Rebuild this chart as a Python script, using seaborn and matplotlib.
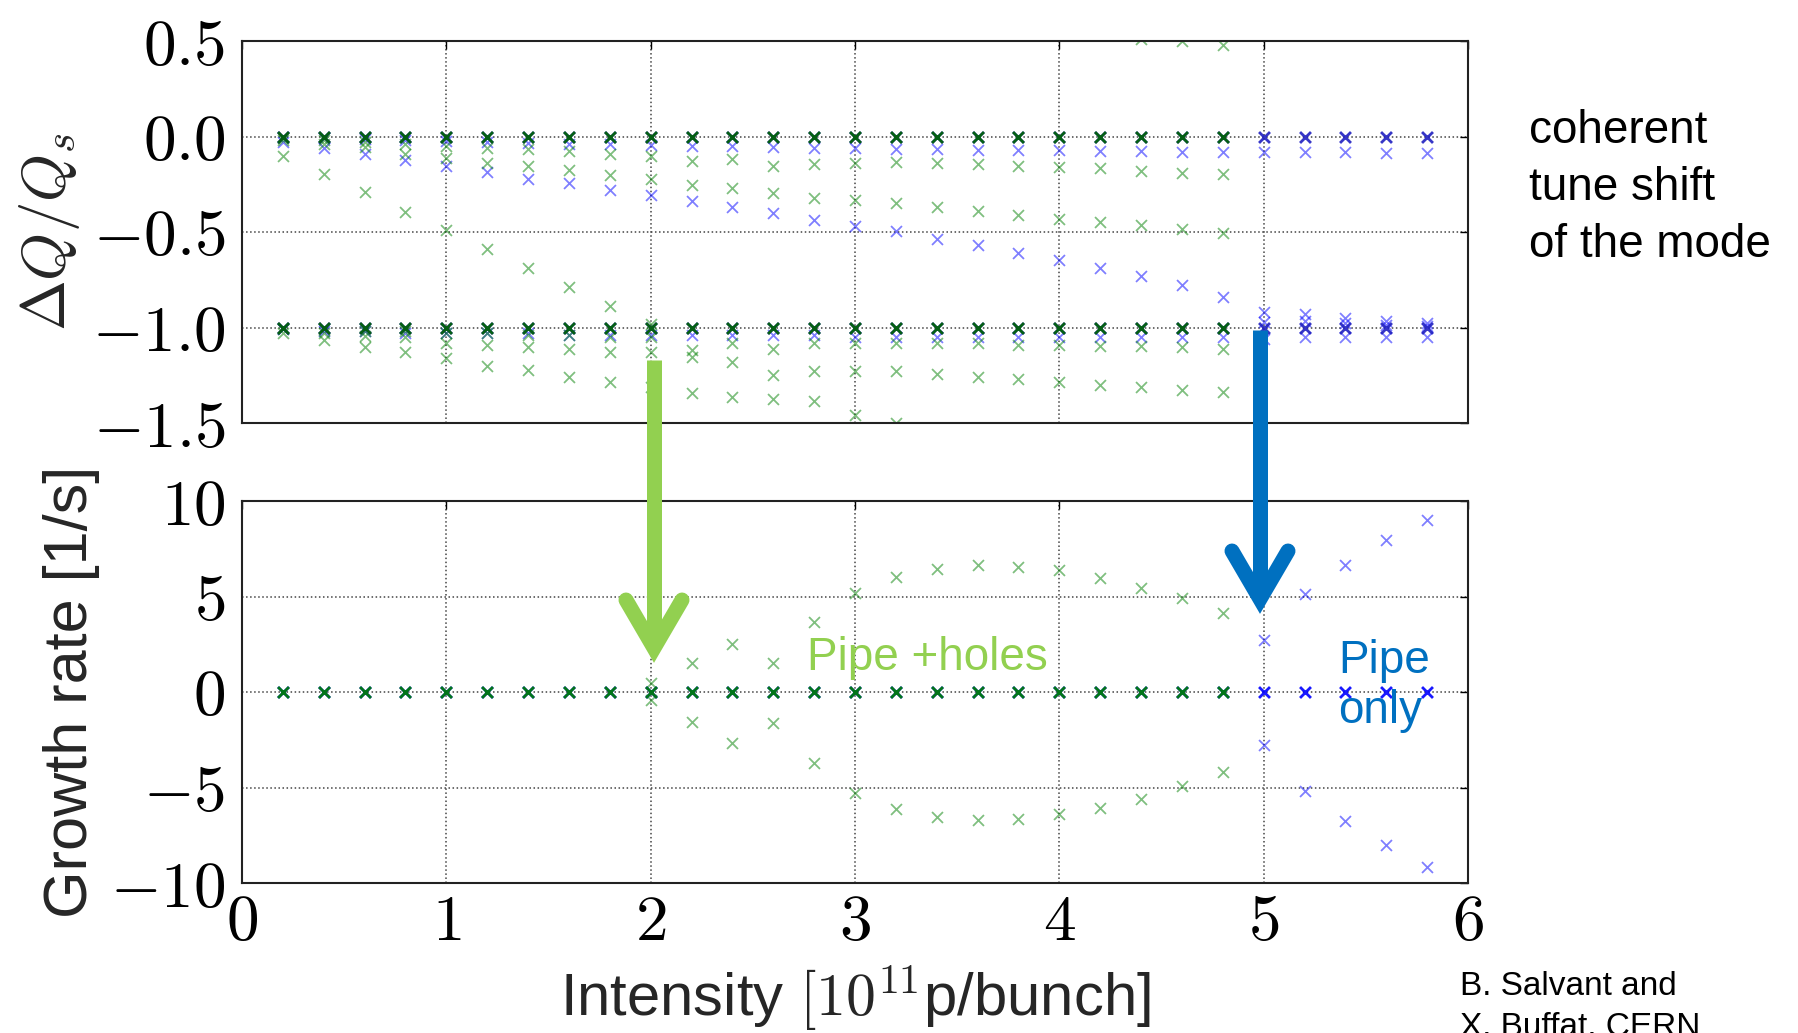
import numpy as np
import pandas as pd
import matplotlib
matplotlib.use("Agg")
import matplotlib.pyplot as plt
from matplotlib.lines import Line2D
from matplotlib import font_manager
import seaborn as sns

nan = np.nan

# bunch intensity [1e11 p/bunch]
intensity_holes = [0.2, 0.4, 0.6, 0.8, 1.0, 1.2, 1.4, 1.6, 1.8, 2.0, 2.2, 2.4,
                   2.6, 2.8, 3.0, 3.2, 3.4, 3.6, 3.8, 4.0, 4.2, 4.4, 4.6, 4.8]
intensity_pipe = [0.2, 0.4, 0.6, 0.8, 1.0, 1.2, 1.4, 1.6, 1.8, 2.0, 2.2, 2.4,
                  2.6, 2.8, 3.0, 3.2, 3.4, 3.6, 3.8, 4.0, 4.2, 4.4, 4.6, 4.8,
                  5.0, 5.2, 5.4, 5.6, 5.8]

# tune shift dQ/Qs, pipe + holes (green)
holes_dq_0 = [0, 0, 0, 0, 0, 0, 0, 0, 0, 0, 0, 0, 0, 0, 0, 0, 0, 0, 0, 0, 0, 0, 0, 0]
holes_dq_m1 = [-1, -1, -1, -1, -1, -1, -1, -1, -1, -1, -1, -1, -1, -1, -1, -1, -1, -1, -1, -1, -1, -1, -1, -1]
holes_dq_a = [-0.10, -0.195, -0.29, -0.395, -0.49, -0.59, -0.686, -0.786, -0.887, -0.98,
              nan, nan, nan, nan, nan, nan, nan, nan, nan, nan, nan, nan, nan, nan]
holes_dq_b = [-0.02, -0.04, -0.055, -0.09, -0.11, -0.14, -0.155, -0.176, -0.204, -0.225, -0.256, -0.268,
              -0.298, -0.32, -0.333, -0.347, -0.37, -0.39, -0.41, -0.43, -0.45, -0.465, -0.486, -0.507]
holes_dq_c = [-0.01, -0.02, -0.03, -0.04, -0.05, -0.06, -0.065, -0.075, -0.09, -0.10, -0.13, -0.117,
              -0.155, -0.145, -0.138, -0.132, -0.141, -0.146, -0.152, -0.16, -0.167, -0.18, -0.19, -0.195]
holes_dq_p = [nan, nan, nan, nan, nan, nan, nan, nan, nan, nan, nan, nan,
              nan, nan, nan, nan, nan, nan, nan, nan, nan, 0.51, 0.50, 0.48]
holes_dq_d = [-1.03, -1.066, -1.10, -1.13, -1.16, -1.20, -1.22, -1.258, -1.284, -1.31, -1.345, -1.366,
              -1.375, -1.387, -1.46, -1.50, nan, nan, nan, nan, nan, nan, nan, nan]
holes_dq_e = [-1.01, -1.03, -1.045, -1.05, -1.08, -1.09, -1.10, -1.11, -1.127, -1.13, -1.157, -1.18,
              -1.25, -1.23, -1.226, -1.226, -1.244, -1.258, -1.27, -1.284, -1.30, -1.314, -1.327, -1.34]
holes_dq_f = [-1.0, -1.01, -1.02, -1.02, -1.03, -1.03, -1.04, -1.04, -1.05, -1.05, -1.12, -1.08,
              -1.11, -1.08, -1.08, -1.08, -1.08, -1.08, -1.09, -1.09, -1.095, -1.095, -1.10, -1.11]

# tune shift dQ/Qs, pipe only (blue)
pipe_dq_0 = [0, 0, 0, 0, 0, 0, 0, 0, 0, 0, 0, 0, 0, 0, 0, 0, 0, 0, 0, 0, 0, 0, 0, 0, 0, 0, 0, 0, 0]
pipe_dq_m1 = [-1, -1, -1, -1, -1, -1, -1, -1, -1, -1, -1, -1, -1, -1, -1, -1, -1, -1, -1, -1, -1, -1, -1, -1, -1, -1, -1, -1, -1]
pipe_dq_a = [-0.03, -0.06, -0.09, -0.124, -0.155, -0.186, -0.22, -0.245, -0.28, -0.307, -0.34, -0.37,
             -0.40, -0.437, -0.469, -0.497, -0.535, -0.57, -0.61, -0.646, -0.688, -0.73, -0.78, -0.84,
             -0.92, -0.93, -0.95, -0.965, -0.975]
pipe_dq_b = [nan, nan, nan, nan, nan, nan, nan, nan, nan, nan, nan, nan,
             nan, nan, nan, nan, nan, nan, nan, nan, nan, nan, nan, nan,
             -0.97, -0.965, -0.975, -0.985, -0.99]
pipe_dq_c = [-0.005, -0.01, -0.015, -0.02, -0.025, -0.03, -0.035, -0.04, -0.04, -0.045, -0.05, -0.05,
             -0.055, -0.06, -0.06, -0.065, -0.065, -0.07, -0.07, -0.07, -0.075, -0.075, -0.08, -0.08,
             -0.08, -0.08, -0.08, -0.085, -0.085]
pipe_dq_d = [-1.01, -1.02, -1.02, -1.03, -1.03, -1.03, -1.03, -1.04, -1.04, -1.04, -1.04, -1.04,
             -1.04, -1.04, -1.05, -1.05, -1.05, -1.05, -1.05, -1.05, -1.05, -1.05, -1.05, -1.05,
             -1.06, -1.05, -1.05, -1.05, -1.05]

# growth rate [1/s]
holes_growth_0 = [0, 0, 0, 0, 0, 0, 0, 0, 0, 0, 0, 0, 0, 0, 0, 0, 0, 0, 0, 0, 0, 0, 0, 0]
holes_growth_pos = [nan, nan, nan, nan, nan, nan, nan, nan, nan, 0.47, 1.52, 2.53,
                    1.52, 3.66, 5.2, 6.01, 6.45, 6.65, 6.57, 6.39, 5.96, 5.47, 4.93, 4.16]
holes_growth_neg = [nan, nan, nan, nan, nan, nan, nan, nan, nan, -0.4, -1.57, -2.67,
                    -1.62, -3.71, -5.31, -6.15, -6.55, -6.7, -6.64, -6.41, -6.06, -5.59, -4.93, -4.2]
pipe_growth_0 = [0, 0, 0, 0, 0, 0, 0, 0, 0, 0, 0, 0, 0, 0, 0, 0, 0, 0, 0, 0, 0, 0, 0, 0, 0, 0, 0, 0, 0]
pipe_growth_pos = [nan] * 24 + [2.7, 5.12, 6.65, 7.96, 9.0]
pipe_growth_neg = [nan] * 24 + [-2.8, -5.19, -6.76, -8.03, -9.16]

x_ticks = [0, 1, 2, 3, 4, 5, 6]
dq_ticks = [0.5, 0.0, -0.5, -1.0, -1.5]
growth_ticks = [10, 5, 0, -5, -10]


def long_form(x, modes):
    frames = [pd.DataFrame({"intensity": x, "value": m}) for m in modes]
    return pd.concat(frames, ignore_index=True).dropna()


sns.set_style("white")
names = {f.name for f in font_manager.fontManager.ttflist}
narrow = "Liberation Sans Narrow" if "Liberation Sans Narrow" in names else "Liberation Sans"
plt.rcParams["font.family"] = ["Liberation Sans", "DejaVu Sans"]
plt.rcParams["mathtext.fontset"] = "cm"

W, H = 1799, 1033
fig = plt.figure(figsize=(W / 100, H / 100), dpi=100)
ax1 = fig.add_axes([242 / W, 1 - 423 / H, 1226 / W, 382 / H])
ax2 = fig.add_axes([242 / W, 1 - 883 / H, 1226 / W, 382 / H])

light = dict(marker="x", s=62, alpha=0.5, linewidth=1.3, legend=False)
dense = dict(marker="x", s=62, alpha=0.9, linewidth=2.0, legend=False)

# top panel: coherent tune shift
sns.scatterplot(data=long_form(intensity_pipe, [pipe_dq_a, pipe_dq_b, pipe_dq_c, pipe_dq_d]),
                x="intensity", y="value", color="blue", ax=ax1, **light)
sns.scatterplot(data=long_form(intensity_holes, [holes_dq_a, holes_dq_b, holes_dq_c, holes_dq_p,
                                                 holes_dq_d, holes_dq_e, holes_dq_f]),
                x="intensity", y="value", color="green", ax=ax1, **light)
sns.scatterplot(data=long_form(intensity_pipe, [pipe_dq_0, pipe_dq_m1]),
                x="intensity", y="value", color="#2020c0", ax=ax1, **dense)
sns.scatterplot(data=long_form(intensity_holes, [holes_dq_0, holes_dq_m1]),
                x="intensity", y="value", color="#006400", ax=ax1, **dense)

# bottom panel: growth rate
sns.scatterplot(data=long_form(intensity_pipe, [pipe_growth_pos, pipe_growth_neg]),
                x="intensity", y="value", color="blue", ax=ax2, **light)
sns.scatterplot(data=long_form(intensity_holes, [holes_growth_pos, holes_growth_neg]),
                x="intensity", y="value", color="green", ax=ax2, **light)
sns.scatterplot(data=long_form(intensity_pipe, [pipe_growth_0]),
                x="intensity", y="value", color="blue", ax=ax2, **dense)
sns.scatterplot(data=long_form(intensity_holes, [holes_growth_0]),
                x="intensity", y="value", color="green", ax=ax2, **dense)

for ax, ticks, lim in [(ax1, dq_ticks, (-1.5, 0.5)), (ax2, growth_ticks, (-10, 10))]:
    ax.set_xlim(0, 6)
    ax.set_ylim(*lim)
    ax.set_xticks(x_ticks)
    ax.set_yticks(ticks)
    if ax is ax1:
        ax.set_yticklabels([f"${t:.1f}$" for t in ticks])
        ax.set_xticklabels([])
    else:
        ax.set_yticklabels([f"${t:d}$" for t in ticks])
        ax.set_xticklabels([f"${t:d}$" for t in x_ticks])
    ax.grid(True, linestyle=":", color="#444444", linewidth=1.1)
    ax.tick_params(direction="in", length=6, width=1, top=True, right=True,
                   labelsize=47, colors="black")
    ax.tick_params(axis="y", pad=12)
    ax.tick_params(axis="x", pad=7)
    for sp in ax.spines.values():
        sp.set_color("#222222")
        sp.set_linewidth(1.5)
        sp.set_visible(True)
    ax.set_xlabel("")
    ax.set_ylabel("")

ax1.set_ylabel(r"$\Delta Q/Q_s$", fontsize=44, va="center")
ax1.yaxis.set_label_coords(-0.157, 0.5)
ax2.set_ylabel("Growth rate [1/s]", fontsize=44, family=[narrow, "DejaVu Sans"], va="center")
ax2.yaxis.set_label_coords(-0.139, 0.5)
ax2.set_xlabel(r"Intensity $[10^{11}$p/bunch]", fontsize=43)
ax2.xaxis.set_label_coords(0.5, -0.21)


def fx(px):
    return px / W


def fy(py):
    return 1 - py / H


# arrows across both panels
def arrow(x, top, tip, color):
    lw = 15 * 0.72
    vert = tip - 17
    fig.add_artist(Line2D([fx(x), fx(x)], [fy(top), fy(vert)], color=color, lw=lw,
                          solid_capstyle="butt", transform=fig.transFigure))
    fig.add_artist(Line2D([fx(x - 28), fx(x), fx(x + 28)], [fy(vert - 48), fy(vert), fy(vert - 48)],
                          color=color, lw=lw, solid_capstyle="round", solid_joinstyle="miter",
                          transform=fig.transFigure))


arrow(654, 360, 665, "#92D050")
arrow(1260, 330, 616, "#0070C0")

fig.text(fx(807), fy(670), "Pipe +holes", color="#92D050", fontsize=33, va="baseline")
fig.text(fx(1338), fy(673), "Pipe", color="#0070C0", fontsize=33, va="baseline")
fig.text(fx(1338), fy(723), "only", color="#0070C0", fontsize=33, va="baseline")

for i, line in enumerate(["coherent", "tune shift", "of the mode"]):
    fig.text(fx(1529), fy(143 + 57 * i), line, color="black", fontsize=33, va="baseline")

fig.text(fx(1460), fy(995), "B. Salvant and", color="black", fontsize=24, va="baseline")
fig.text(fx(1460), fy(1036), "X. Buffat, CERN", color="black", fontsize=24, va="baseline")

fig.savefig("out.png", dpi=100)
